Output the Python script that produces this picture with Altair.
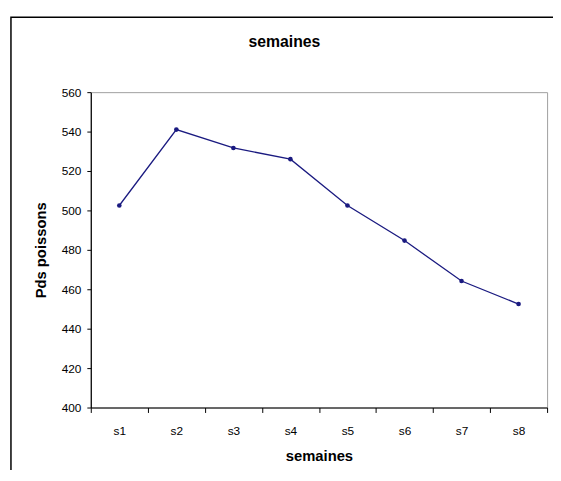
import altair as alt
import pandas as pd

semaines = ["s1", "s2", "s3", "s4", "s5", "s6", "s7", "s8"]
poids = [502.5, 541, 531.7, 526, 502.5, 484.7, 464.2, 452.5]
y_ticks = [400, 420, 440, 460, 480, 500, 520, 540, 560]

W, H = 463, 320
FONT = "Liberation Sans"

df = pd.DataFrame({"semaine": semaines, "poids": poids})

x_enc = alt.X(
    "semaine:N",
    sort=semaines,
    scale=alt.Scale(paddingInner=0, paddingOuter=0),
    axis=alt.Axis(
        title="semaines",
        labelAngle=0,
        tickBand="extent",
        tickSize=5,
        labelPadding=13,
        titlePadding=13,
    ),
)
y_enc = alt.Y(
    "poids:Q",
    scale=alt.Scale(domain=[400, 560], nice=False, zero=False),
    axis=alt.Axis(
        title="Pds poissons",
        values=y_ticks,
        grid=False,
        tickSize=4,
        labelPadding=6,
        titlePadding=13,
    ),
)

line = alt.Chart(df).mark_line(color="#1a1a80", strokeWidth=1.3).encode(x=x_enc, y=y_enc)
pts = alt.Chart(df).mark_point(filled=True, color="#1a1a80", size=22, opacity=1).encode(x=x_enc, y=y_enc)

frame = alt.Chart(pd.DataFrame({"a": [0]})).mark_rect(
    filled=False, stroke="black", strokeWidth=1.5, fill=None
).encode(
    x=alt.value(-81), y=alt.value(-76), x2=alt.value(W + 200), y2=alt.value(H + 200)
)

chart = (
    alt.layer(frame, line, pts)
    .properties(
        width=W,
        height=H,
        autosize=alt.AutoSizeParams(type="none"),
        padding={"left": 84, "top": 82, "right": 6, "bottom": 60},
        title=alt.TitleParams(
            "semaines", font=FONT, fontSize=16, fontWeight="bold",
            anchor="middle", frame="group", dx=-35, offset=-47,
            baseline="alphabetic", color="black",
        ),
    )
    .configure_view(stroke="#a0a0a0", strokeWidth=1)
    .configure_axis(
        labelFont=FONT, titleFont=FONT, labelFontSize=12, titleFontSize=15,
        titleFontWeight="bold", labelColor="black", titleColor="black",
        domainColor="black", tickColor="black", domainWidth=1.2, tickWidth=1,
    )
)

chart.save("out.html", embed_options={"renderer": "svg", "actions": False})
